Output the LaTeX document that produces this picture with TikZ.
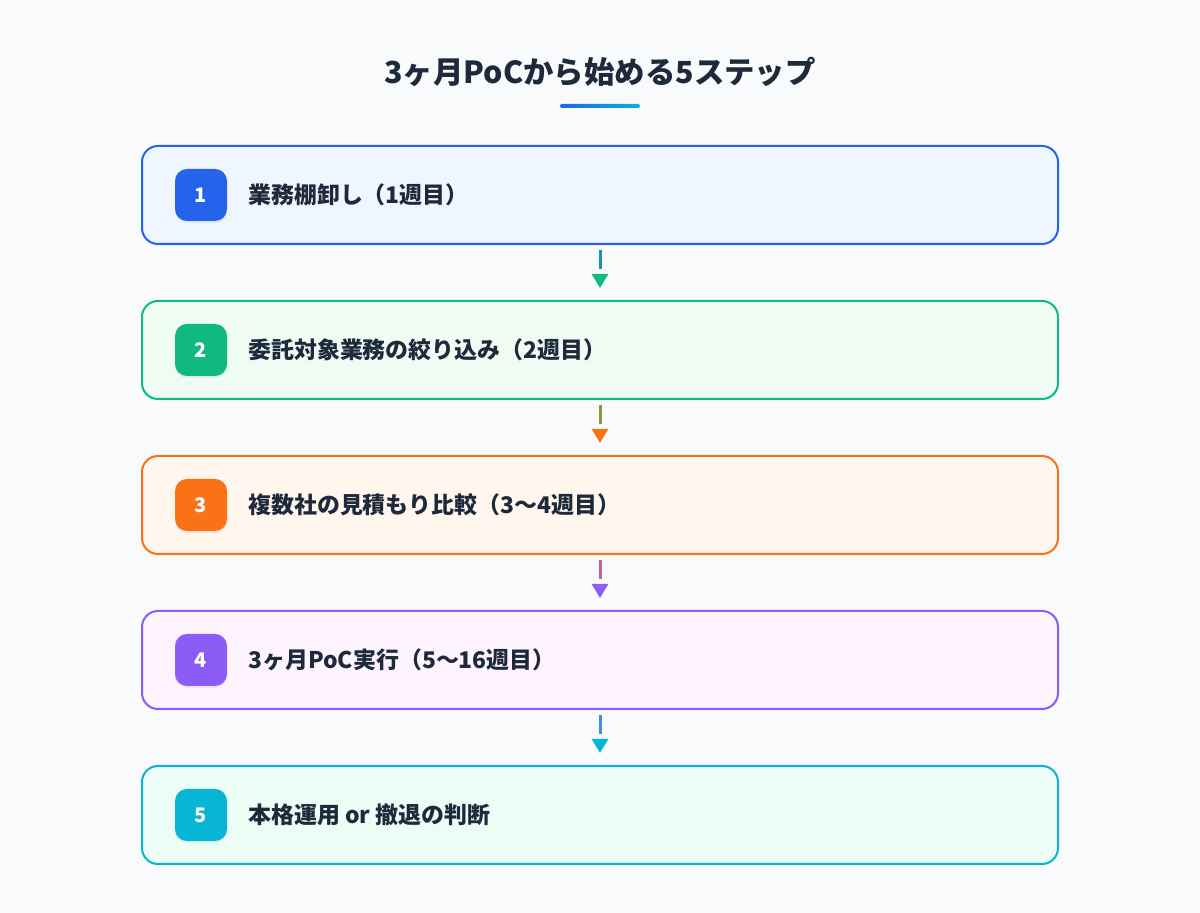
\documentclass[tikz,border=0pt]{standalone}
\usepackage{fontspec}
\setmainfont{Noto Sans CJK JP}
\usetikzlibrary{arrows.meta,positioning,shadows}

\definecolor{pagebg}{HTML}{F8FAFC}
\definecolor{ink}{HTML}{1E293B}
\definecolor{blueline}{HTML}{2563EB}
\definecolor{bluefill}{HTML}{EFF6FF}
\definecolor{greenline}{HTML}{10B981}
\definecolor{greenfill}{HTML}{EEFCF4}
\definecolor{orangeline}{HTML}{F97316}
\definecolor{orangefill}{HTML}{FFF7ED}
\definecolor{purpleline}{HTML}{8B5CF6}
\definecolor{purplefill}{HTML}{FDF4FF}
\definecolor{cyanline}{HTML}{06B6D4}
\definecolor{cyanfill}{HTML}{ECFDF5}

\begin{document}
\begin{tikzpicture}[x=0.75pt, y=0.75pt,
    stepbox/.style={rectangle, draw, line width=1.5pt, rounded corners=12pt, minimum width=687pt, minimum height=73.5pt,
        drop shadow={opacity=0.05, shadow xshift=0pt, shadow yshift=-1.5pt}},
    badge/.style={rectangle, rounded corners=9pt, minimum size=39pt, inner sep=0pt, text=white,
        font=\fontsize{15}{18}\selectfont\bfseries, drop shadow={opacity=0.12, shadow xshift=0pt, shadow yshift=-1.5pt}},
    steptext/.style={anchor=west, text=ink, inner sep=0pt, font=\fontsize{17.2}{20}\selectfont\bfseries},
    arrow/.style={line width=2.25pt, dash pattern=on 14.25pt off 5.25pt, shorten <=3.75pt, shorten >=9pt,
        -{Triangle[width=12pt, length=10.5pt, color=#1]}}
]
    % Page
    \fill[pagebg] (0,0) rectangle (1200,913);
    \useasboundingbox (0,0) rectangle (1200,913);

    % Title
    \node[text=ink, font=\fontsize{22.8}{27}\selectfont\bfseries] (title) at (600,841) {3ヶ月PoCから始める5ステップ};
    \node[minimum width=60pt, minimum height=3pt, inner sep=0pt, rounded corners=1.5pt,
        left color=blueline, right color=cyanline] (rule) at (600,807) {};

    % Step 1
    \node[stepbox, draw=blueline, fill=bluefill] (s1) at (600,718) {};
    \node[badge, fill=blueline] (n1) at (201,718) {1};
    \node[steptext] (t1) at (248,718) {業務棚卸し（1週目）};

    % Step 2
    \node[stepbox, draw=greenline, fill=greenfill] (s2) at (600,563) {};
    \node[badge, fill=greenline] (n2) at (201,563) {2};
    \node[steptext] (t2) at (248,563) {委託対象業務の絞り込み（2週目）};

    % Step 3
    \node[stepbox, draw=orangeline, fill=orangefill] (s3) at (600,408) {};
    \node[badge, fill=orangeline] (n3) at (201,408) {3};
    \node[steptext] (t3) at (248,408) {複数社の見積もり比較（3〜4週目）};

    % Step 4
    \node[stepbox, draw=purpleline, fill=purplefill] (s4) at (600,253) {};
    \node[badge, fill=purpleline] (n4) at (201,253) {4};
    \node[steptext] (t4) at (248,253) {3ヶ月PoC実行（5〜16週目）};

    % Step 5
    \node[stepbox, draw=cyanline, fill=cyanfill] (s5) at (600,98) {};
    \node[badge, fill=cyanline] (n5) at (201,98) {5};
    \node[steptext] (t5) at (248,98) {本格運用 or 撤退の判断};

    % Arrows
    \draw[arrow=greenline, blueline!45!greenline] (s1) -- (s2);
    \draw[arrow=orangeline, greenline!45!orangeline] (s2) -- (s3);
    \draw[arrow=purpleline, orangeline!45!purpleline] (s3) -- (s4);
    \draw[arrow=cyanline, purpleline!45!cyanline] (s4) -- (s5);
\end{tikzpicture}
\end{document}
